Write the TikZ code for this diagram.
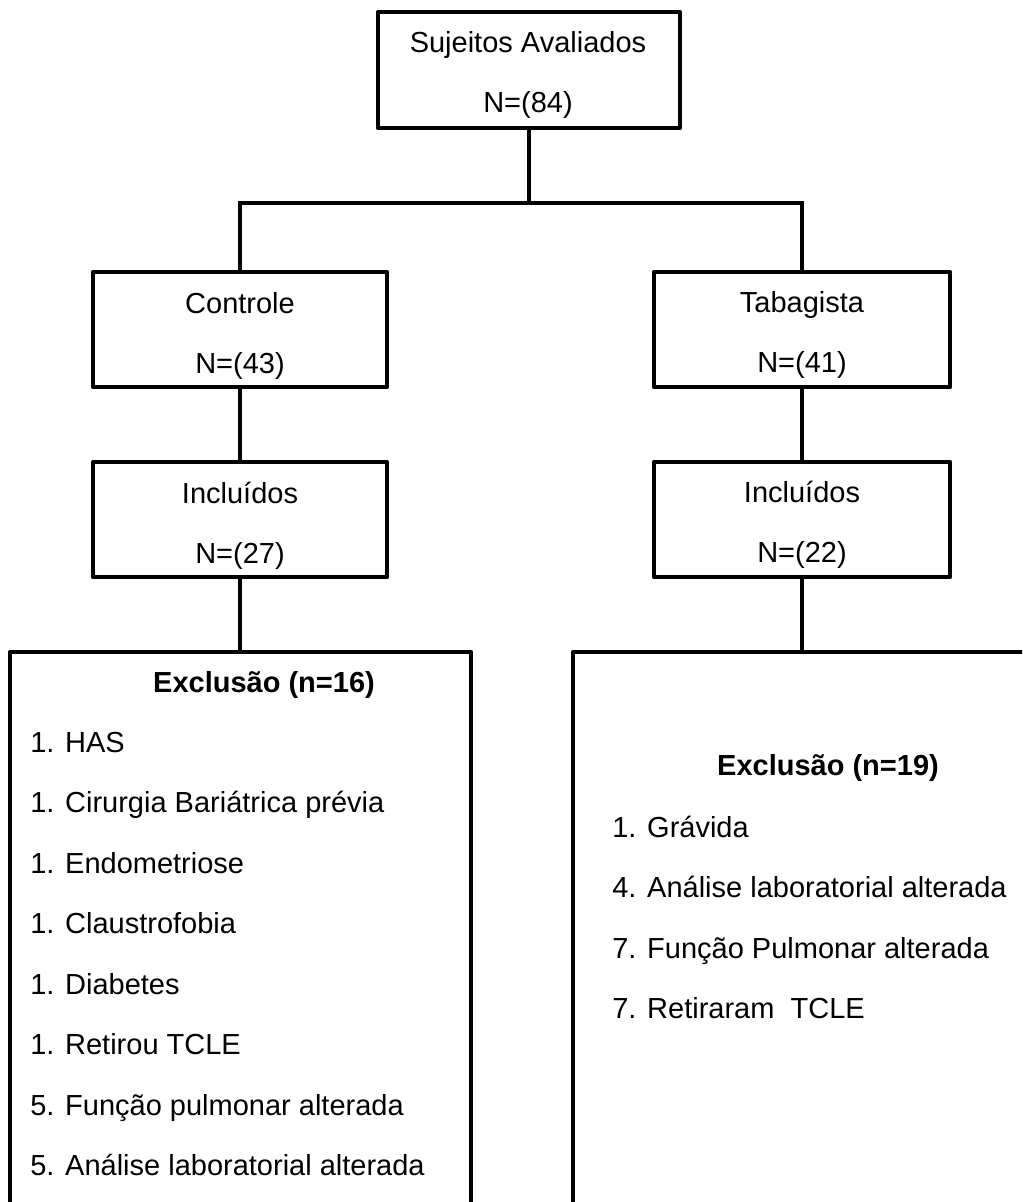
\documentclass[tikz,border=0pt]{standalone}
\usepackage{fontspec}
\setmainfont{Liberation Sans}
\begin{document}
\begin{tikzpicture}[x=0.75pt,y=-0.75pt,
  box/.style={draw=black,line width=3.5pt,line join=round,rectangle,inner sep=0pt},
  conn/.style={draw=black,line width=3.5pt},
  txt/.style={anchor=base,inner sep=0pt,font=\fontsize{21.75pt}{26pt}\selectfont},
  item/.style={anchor=base west,inner sep=0pt,font=\fontsize{21.75pt}{26pt}\selectfont},
  ttl/.style={anchor=base,inner sep=0pt,font=\fontsize{21.75pt}{26pt}\selectfont\bfseries}]
\useasboundingbox (0,0) rectangle (1022,1202);
\clip (0,0) rectangle (1022,1202);
\fill[white] (0,0) rectangle (1022,1202);

% boxes
\node[box,minimum width=226.5pt,minimum height=87pt] (top) at (529,70) {};
\node[box,minimum width=220.5pt,minimum height=86.25pt] (ctrl) at (240,329.5) {};
\node[box,minimum width=222pt,minimum height=86.25pt] (tab) at (802,329.5) {};
\node[box,minimum width=220.5pt,minimum height=86.25pt] (incl) at (240,519.5) {};
\node[box,minimum width=222pt,minimum height=86.25pt] (incr) at (802,519.5) {};
\node[box,minimum width=345.75pt,minimum height=441pt] (excl) at (240.5,946) {};
\node[box,minimum width=365.25pt,minimum height=441pt] (excr) at (816.5,946) {};

% junctions
\coordinate (jn) at (529,203);
\coordinate (jl) at (240,203);
\coordinate (jr) at (802,203);

% connectors
\draw[conn] (top.south) -- (jn);
\draw[conn,line cap=rect] (jl) -- (jr);
\draw[conn] (jl) -- (ctrl.north);
\draw[conn] (jr) -- (tab.north);
\draw[conn] (ctrl.south) -- (incl.north);
\draw[conn] (tab.south) -- (incr.north);
\draw[conn] (incl.south) -- (incl.south |- excl.north);
\draw[conn] (incr.south) -- (incr.south |- excr.north);

% box texts
\node[txt] (t1) at (528,53) {Sujeitos Avaliados};
\node[txt] (t2) at (528,113) {N=(84)};
\node[txt] (c1) at (240,313) {Controle};
\node[txt] (c2) at (240,373) {N=(43)};
\node[txt] (s1) at (802,312) {Tabagista};
\node[txt] (s2) at (802,372) {N=(41)};
\node[txt] (i1) at (240,503) {Incluídos};
\node[txt] (i2) at (240,563) {N=(27)};
\node[txt] (r1) at (802,502) {Incluídos};
\node[txt] (r2) at (802,562) {N=(22)};

% left exclusion
\node[ttl] (lt) at (264,692) {Exclusão (n=16)};
\node[item] (l1) at (30,752) {1. HAS};
\node[item] (l2) at (30,812.5) {1. Cirurgia Bariátrica prévia};
\node[item] (l3) at (30,873) {1. Endometriose};
\node[item] (l4) at (30,933.5) {1. Claustrofobia};
\node[item] (l5) at (30,994) {1. Diabetes};
\node[item] (l6) at (30,1054.5) {1. Retirou TCLE};
\node[item] (l7) at (30,1115) {5. Função pulmonar alterada};
\node[item] (l8) at (30,1175.5) {5. Análise laboratorial alterada};

% right exclusion
\node[ttl] (rt) at (828,775) {Exclusão (n=19)};
\node[item] (q1) at (612,837) {1. Grávida};
\node[item] (q2) at (612,897.5) {4. Análise laboratorial alterada};
\node[item] (q3) at (612,958) {7. Função Pulmonar alterada};
\node[item] (q4) at (612,1018.5) {7. Retiraram\ \ TCLE};
\end{tikzpicture}
\end{document}
